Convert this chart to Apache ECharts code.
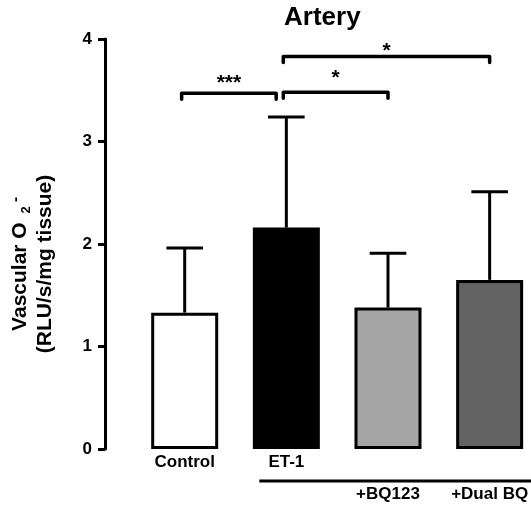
<!DOCTYPE html>
<html>
<head>
<meta charset="utf-8">
<script src="https://cdn.jsdelivr.net/npm/echarts@6/dist/echarts.min.js"></script>
<style>
  html, body { margin: 0; padding: 0; background: #fff; }
  #chart { width: 531px; height: 506px; }
</style>
</head>
<body>
<div id="chart"></div>
<script>
// groups and values
var groups = ['Control', 'ET-1', '+BQ123', '+Dual BQ']
var means = [1.33, 2.16, 1.38, 1.65]
var errors = [0.63, 1.08, 0.53, 0.86]
var barColors = ['#ffffff', '#000000', '#a6a6a6', '#626262']
var yTicks = [0, 1, 2, 3, 4]

// significance brackets
var bracketFrom = [0, 1, 1]
var bracketTo = [1, 2, 3]
var bracketLevel = [3.47, 3.48, 3.83]
var starLevel = [3.61, 3.66, 3.92]
var bracketStars = ['***', '*', '*']

var FONT = 'Liberation Sans'

function renderError (params, api) {
  var x = api.value(0)
  var base = api.coord([x, api.value(1)])
  var top = api.coord([x, api.value(1) + api.value(2)])
  var half = api.size([1, 0])[0] * 0.18
  var st = { stroke: '#000', lineWidth: 3 }
  return {
    type: 'group',
    children: [
      { type: 'line', shape: { x1: base[0], y1: base[1], x2: top[0], y2: top[1] }, style: st },
      { type: 'line', shape: { x1: top[0] - half, y1: top[1], x2: top[0] + half, y2: top[1] }, style: st }
    ]
  }
}

function renderBracket (params, api) {
  var i = params.dataIndex
  var unit = api.size([1, 0])[0]
  var a = api.coord([api.value(0), api.value(2)])
  var b = api.coord([api.value(1), api.value(2)])
  var x1 = a[0] - unit * 0.03
  var x2 = b[0] - unit * (api.value(1) === 1 ? 0.1 : 0.0)
  var y = a[1]
  var s = api.coord([api.value(0), starLevel[i]])
  return {
    type: 'group',
    children: [
      {
        type: 'polyline',
        shape: { points: [[x1, y + 6], [x1, y], [x2, y], [x2, y + 6]] },
        style: { stroke: '#000', lineWidth: 3.5, fill: null, lineCap: 'round', lineJoin: 'round' }
      },
      {
        type: 'text',
        x: (x1 + x2) / 2,
        y: s[1] + 4,
        style: {
          text: bracketStars[i],
          fill: '#000',
          font: 'bold 21px "' + FONT + '"',
          align: 'center',
          verticalAlign: 'middle'
        }
      }
    ]
  }
}

var chart = echarts.init(document.getElementById('chart'))
var option = {
  animation: false,
  backgroundColor: '#fff',
  title: {
    text: 'Artery',
    left: 284,
    top: 5,
    padding: 0,
    textStyle: { fontFamily: FONT, fontSize: 26, fontWeight: 'bold', color: '#000' }
  },
  grid: { left: 103.5, right: 0, top: 39, bottom: 57, containLabel: false },
  xAxis: {
    type: 'value',
    min: -0.784,
    max: 3.379,
    splitLine: { show: false },
    axisLine: { show: false },
    axisTick: { show: false },
    axisLabel: {
      customValues: groups.map(function (g, i) { return i }),
      margin: 5,
      color: '#000',
      fontFamily: FONT,
      fontSize: 17,
      fontWeight: 'bold',
      lineHeight: 16,
      formatter: function (v) {
        var i = Math.round(v)
        return i >= 2 ? '\n\n' + groups[i] : groups[i]
      }
    }
  },
  yAxis: {
    type: 'value',
    min: yTicks[0],
    max: yTicks[yTicks.length - 1],
    interval: 1,
    splitLine: { show: false },
    axisLine: { show: true, onZero: false, lineStyle: { color: '#000', width: 3 } },
    axisTick: { show: true, length: 7, lineStyle: { color: '#000', width: 3 } },
    axisLabel: { color: '#000', fontFamily: FONT, fontSize: 17, fontWeight: 'bold', margin: 13 },
    name: '{t|Vascular O }{sub|2}{sup| -}\n{t|(RLU/s/mg tissue)}',
    nameLocation: 'middle',
    nameGap: 47,
    nameTextStyle: {
      padding: [0, 40, 0, 0],
      rich: {
        t: { fontFamily: FONT, fontSize: 21, fontWeight: 'bold', color: '#000', lineHeight: 25 },
        sub: { fontFamily: FONT, fontSize: 13, fontWeight: 'bold', color: '#000', lineHeight: 25, verticalAlign: 'bottom', padding: [6, 0, 0, 3] },
        sup: { fontFamily: FONT, fontSize: 15, fontWeight: 'bold', color: '#000', lineHeight: 25, verticalAlign: 'top', padding: [0, 0, 8, 0] }
      }
    }
  },
  series: [
    {
      type: 'bar',
      barWidth: 67,
      z: 3,
      data: means.map(function (m, i) {
        return { value: [i, m], itemStyle: { color: barColors[i], borderColor: '#000', borderWidth: 3 } }
      })
    },
    {
      type: 'custom',
      z: 2,
      clip: false,
      renderItem: renderError,
      encode: { x: 0, y: [1, 2] },
      data: means.map(function (m, i) { return [i, m, errors[i]] })
    },
    {
      type: 'custom',
      z: 4,
      clip: false,
      renderItem: renderBracket,
      encode: { x: [0, 1], y: 2 },
      data: bracketFrom.map(function (f, i) { return [f, bracketTo[i], bracketLevel[i]] })
    }
  ]
}
chart.setOption(option)

// treatment underline under ET-1 and the antagonist groups
var ux = chart.convertToPixel({ xAxisIndex: 0 }, 1)
chart.setOption({
  graphic: [{
    type: 'line',
    shape: { x1: ux - 27, y1: 481, x2: 531, y2: 481 },
    style: { stroke: '#000', lineWidth: 3 }
  }]
})
</script>
</body>
</html>
